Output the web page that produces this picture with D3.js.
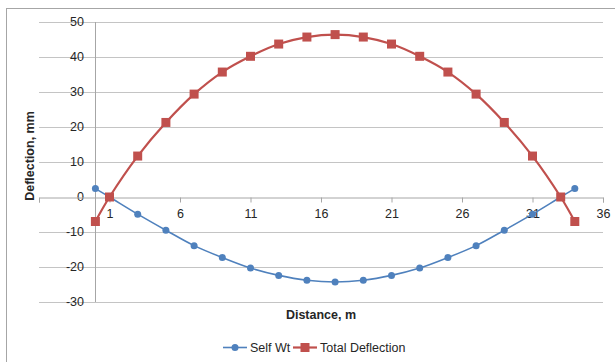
<!DOCTYPE html>
<html>
<head>
<meta charset="utf-8">
<script src="https://cdn.jsdelivr.net/npm/d3@7"></script>
<style>
  html, body { margin: 0; padding: 0; background: #fff; }
  svg { display: block; }
  text { font-family: "Liberation Sans", Arial, sans-serif; fill: #262626; }
</style>
</head>
<body>
<svg id="chart" width="615" height="362"></svg>
<script>
// Beam deflection along the span (m) for self weight and total load (mm)
const distances = [0, 1, 3, 5, 7, 9, 11, 13, 15, 17, 19, 21, 23, 25, 27, 29, 31, 33, 34];
const selfWt = [2.4, 0, -4.9, -9.5, -13.9, -17.3, -20.3, -22.4, -23.8, -24.3, -23.8, -22.4, -20.3, -17.3, -13.9, -9.5, -4.9, 0, 2.4];
const totalDeflection = [-7, 0, 11.7, 21.3, 29.4, 35.7, 40.2, 43.7, 45.7, 46.4, 45.7, 43.7, 40.2, 35.7, 29.4, 21.3, 11.7, 0, -7];
const xTicks = [-4, 1, 6, 11, 16, 21, 26, 31, 36];
const yTicks = [-30, -20, -10, 0, 10, 20, 30, 40, 50];

const series = [
  { name: "Self Wt", values: selfWt, color: "#4F81BD", width: 1.6, marker: "circle" },
  { name: "Total Deflection", values: totalDeflection, color: "#C0504D", width: 2.2, marker: "square" }
];

const svg = d3.select("#chart");

// chart frame
svg.append("rect")
  .attr("x", 6.5).attr("y", 8.5)
  .attr("width", 700).attr("height", 400)
  .attr("fill", "#fff").attr("stroke", "#a6a6a6");

const x = d3.scaleLinear().domain([-4, 36]).range([39, 603]);
const y = d3.scaleLinear().domain([-30, 50]).range([302, 22]);

// horizontal gridlines
svg.append("g").selectAll("line")
  .data(yTicks.filter(v => v !== 0))
  .join("line")
  .attr("x1", x(-4)).attr("x2", x(36))
  .attr("y1", d => Math.round(y(d)) + 0.5).attr("y2", d => Math.round(y(d)) + 0.5)
  .attr("stroke", "#c4c4c4").attr("stroke-width", 1);

// y axis labels
svg.append("g").selectAll("text")
  .data(yTicks)
  .join("text")
  .attr("x", 84).attr("y", d => y(d))
  .attr("dy", "0.35em")
  .attr("text-anchor", "end")
  .attr("font-size", 12.5)
  .text(d => d);

// x axis at zero with downward ticks
const xAxisY = Math.round(y(0)) + 0.5;
const xAxis = d3.axisBottom(x).tickValues(xTicks).tickSize(5).tickFormat(d => d < 0 ? "" : d);
const gx = svg.append("g").attr("transform", `translate(0,${xAxisY})`).call(xAxis);
gx.select(".domain").attr("stroke", "#a6a6a6");
gx.selectAll(".tick line").attr("stroke", "#a6a6a6");
gx.selectAll(".tick text")
  .attr("font-size", 12.5).attr("fill", "#262626")
  .attr("font-family", "Liberation Sans, Arial, sans-serif")
  .attr("y", 12).attr("dy", "0.71em");

// y axis line at distance zero
svg.append("line")
  .attr("x1", Math.round(x(0)) + 0.5).attr("x2", Math.round(x(0)) + 0.5)
  .attr("y1", y(50)).attr("y2", y(-30))
  .attr("stroke", "#a6a6a6");

// smoothed series lines
const line = d3.line()
  .x((d, i) => x(distances[i]))
  .y(d => y(d))
  .curve(d3.curveCatmullRom.alpha(0.5));

series.forEach(s => {
  svg.append("path")
    .attr("d", line(s.values))
    .attr("fill", "none")
    .attr("stroke", s.color)
    .attr("stroke-width", s.width);
});

// markers
series.forEach(s => {
  const g = svg.append("g");
  if (s.marker === "circle") {
    g.selectAll("circle").data(s.values).join("circle")
      .attr("cx", (d, i) => x(distances[i]))
      .attr("cy", d => y(d))
      .attr("r", 3.5)
      .attr("fill", s.color);
  } else {
    g.selectAll("rect").data(s.values).join("rect")
      .attr("x", (d, i) => x(distances[i]) - 4.5)
      .attr("y", d => y(d) - 4.5)
      .attr("width", 9).attr("height", 9)
      .attr("fill", s.color);
  }
});

// axis titles
svg.append("text")
  .attr("transform", `translate(34,${(y(50) + y(-30)) / 2 - 6}) rotate(-90)`)
  .attr("text-anchor", "middle")
  .attr("font-size", 12.5).attr("font-weight", "bold")
  .text("Deflection, mm");

svg.append("text")
  .attr("x", 321).attr("y", 319)
  .attr("text-anchor", "middle")
  .attr("font-size", 12.5).attr("font-weight", "bold")
  .text("Distance, m");

// legend
const legend = svg.append("g");
const legendItems = [
  { s: series[0], x0: 223 },
  { s: series[1], x0: 293 }
];
legendItems.forEach(({ s, x0 }) => {
  const ly = 347.5;
  legend.append("line")
    .attr("x1", x0).attr("x2", x0 + 24)
    .attr("y1", ly).attr("y2", ly)
    .attr("stroke", s.color).attr("stroke-width", s.width);
  if (s.marker === "circle") {
    legend.append("circle").attr("cx", x0 + 12).attr("cy", ly).attr("r", 3.5).attr("fill", s.color);
  } else {
    legend.append("rect").attr("x", x0 + 7.5).attr("y", ly - 4.5).attr("width", 9).attr("height", 9).attr("fill", s.color);
  }
  legend.append("text")
    .attr("x", x0 + 27).attr("y", ly).attr("dy", "0.35em")
    .attr("font-size", 12.5)
    .text(s.name);
});
</script>
</body>
</html>
